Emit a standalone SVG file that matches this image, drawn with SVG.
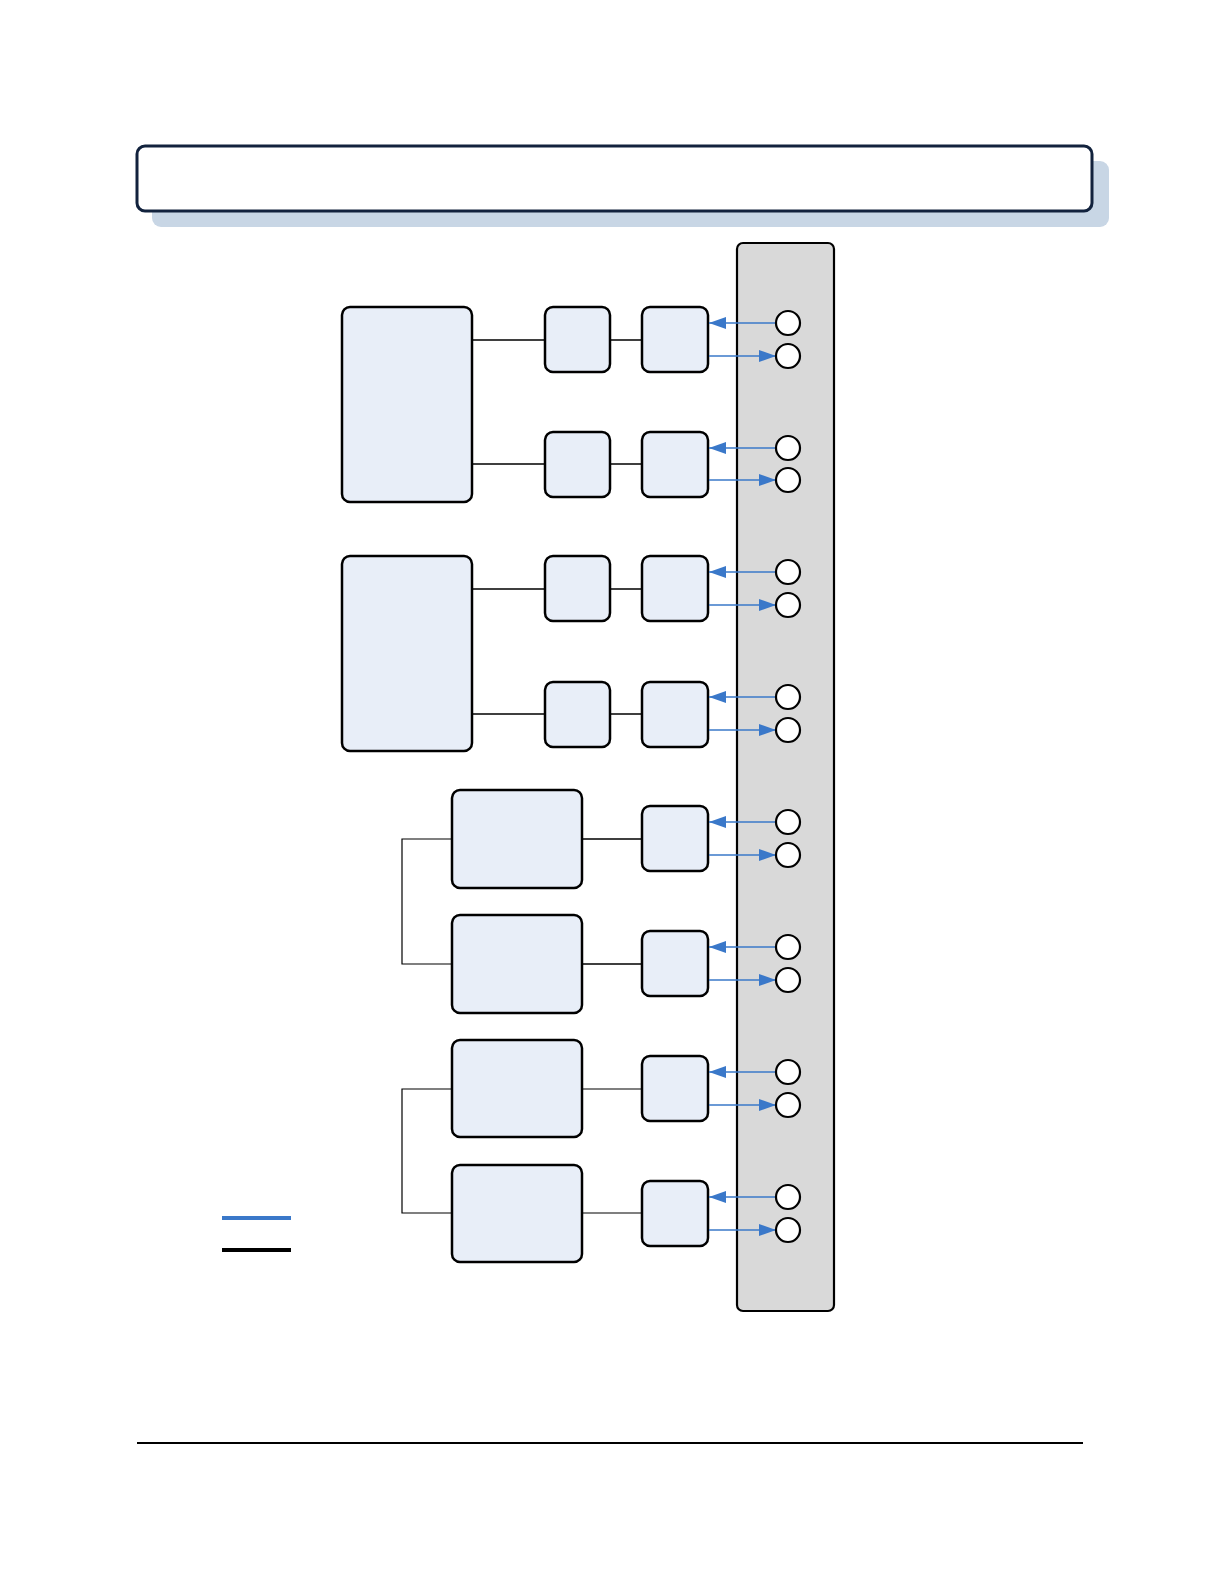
<svg xmlns="http://www.w3.org/2000/svg" width="1224" height="1584" viewBox="0 0 1224 1584">
<style>
.box{fill:#e8eef8;stroke:#000;stroke-width:2.5}
.port{fill:#fff;stroke:#000;stroke-width:2.2}
.ln{fill:none;stroke:#000;stroke-width:1.6}
.thin{fill:none;stroke:#000;stroke-width:1.2}
.bl{fill:none;stroke:#3a78c9;stroke-width:1.5}
</style>
<defs>
<marker id="ah2" markerWidth="17" markerHeight="12" refX="17" refY="6" orient="auto" markerUnits="userSpaceOnUse">
<path d="M0,0 L17,6 L0,12 z" fill="#3a78c9"/>
</marker>
</defs>
<rect width="1224" height="1584" fill="#fff"/>
<g id="header">
<rect x="152" y="161" width="957" height="66" rx="9" fill="#c8d6e5"/>
<rect x="137" y="146" width="955" height="65" rx="8" fill="#fff" stroke="#12223d" stroke-width="3"/>
</g>
<g id="panel">
<rect x="737" y="243" width="97" height="1068" rx="6" fill="#d9d9d9" stroke="#000" stroke-width="2.2"/>
</g>
<g id="nodes">
<rect id="big1" class="box" x="342" y="307" width="130" height="195" rx="8"/>
<rect id="big2" class="box" x="342" y="556" width="130" height="195" rx="8"/>
<g id="mid">
<rect class="box" x="545" y="307" width="65" height="65" rx="8"/>
<rect class="box" x="545" y="432" width="65" height="65" rx="8"/>
<rect class="box" x="545" y="556" width="65" height="65" rx="8"/>
<rect class="box" x="545" y="682" width="65" height="65" rx="8"/>
</g>
<g id="wide">
<rect class="box" x="452" y="790" width="130" height="98" rx="8"/>
<rect class="box" x="452" y="915" width="130" height="98" rx="8"/>
<rect class="box" x="452" y="1040" width="130" height="97" rx="8"/>
<rect class="box" x="452" y="1165" width="130" height="97" rx="8"/>
</g>
<g id="right">
<rect class="box" x="642" y="307" width="66" height="65" rx="8"/>
<rect class="box" x="642" y="432" width="66" height="65" rx="8"/>
<rect class="box" x="642" y="556" width="66" height="65" rx="8"/>
<rect class="box" x="642" y="682" width="66" height="65" rx="8"/>
<rect class="box" x="642" y="806" width="66" height="65" rx="8"/>
<rect class="box" x="642" y="931" width="66" height="65" rx="8"/>
<rect class="box" x="642" y="1056" width="66" height="65" rx="8"/>
<rect class="box" x="642" y="1181" width="66" height="65" rx="8"/>
</g>
</g>
<g id="connectors">
<path class="ln" d="M472,340H545M472,464H545M472,589H545M472,714H545"/>
<path class="ln" d="M610,340H642M610,464H642M610,589H642M610,714H642"/>
<path class="ln" d="M582,839H642M582,964H642" stroke-width="2.4"/>
<path class="thin" d="M582,1089H642M582,1213H642"/>
<path class="thin" d="M452,839H402V964H452M452,1089H402V1213H452"/>
<g id="arrows">
<path class="bl" d="M776,323H709" marker-end="url(#ah2)"/>
<path class="bl" d="M709,356H776" marker-end="url(#ah2)"/>
<path class="bl" d="M776,448H709" marker-end="url(#ah2)"/>
<path class="bl" d="M709,480H776" marker-end="url(#ah2)"/>
<path class="bl" d="M776,572H709" marker-end="url(#ah2)"/>
<path class="bl" d="M709,605H776" marker-end="url(#ah2)"/>
<path class="bl" d="M776,697H709" marker-end="url(#ah2)"/>
<path class="bl" d="M709,730H776" marker-end="url(#ah2)"/>
<path class="bl" d="M776,822H709" marker-end="url(#ah2)"/>
<path class="bl" d="M709,855H776" marker-end="url(#ah2)"/>
<path class="bl" d="M776,947H709" marker-end="url(#ah2)"/>
<path class="bl" d="M709,980H776" marker-end="url(#ah2)"/>
<path class="bl" d="M776,1072H709" marker-end="url(#ah2)"/>
<path class="bl" d="M709,1105H776" marker-end="url(#ah2)"/>
<path class="bl" d="M776,1197H709" marker-end="url(#ah2)"/>
<path class="bl" d="M709,1230H776" marker-end="url(#ah2)"/>
</g>
</g>
<g id="ports">
<circle class="port" cx="788" cy="323" r="12"/>
<circle class="port" cx="788" cy="356" r="12"/>
<circle class="port" cx="788" cy="448" r="12"/>
<circle class="port" cx="788" cy="480" r="12"/>
<circle class="port" cx="788" cy="572" r="12"/>
<circle class="port" cx="788" cy="605" r="12"/>
<circle class="port" cx="788" cy="697" r="12"/>
<circle class="port" cx="788" cy="730" r="12"/>
<circle class="port" cx="788" cy="822" r="12"/>
<circle class="port" cx="788" cy="855" r="12"/>
<circle class="port" cx="788" cy="947" r="12"/>
<circle class="port" cx="788" cy="980" r="12"/>
<circle class="port" cx="788" cy="1072" r="12"/>
<circle class="port" cx="788" cy="1105" r="12"/>
<circle class="port" cx="788" cy="1197" r="12"/>
<circle class="port" cx="788" cy="1230" r="12"/>
</g>
<g id="legend">
<line x1="222" y1="1218" x2="291" y2="1218" stroke="#3a78c9" stroke-width="4"/>
<line x1="222" y1="1250" x2="291" y2="1250" stroke="#000" stroke-width="4"/>
</g>
<g id="footer">
<line x1="137" y1="1443" x2="1083" y2="1443" stroke="#000" stroke-width="2"/>
</g>
</svg>
